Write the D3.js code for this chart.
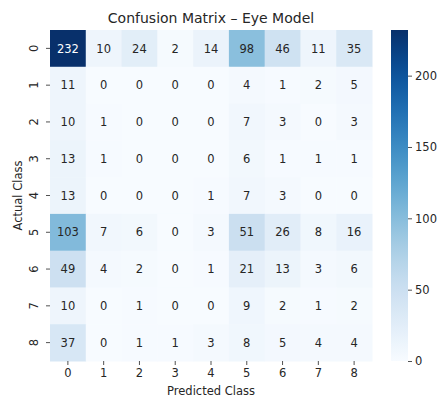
<!DOCTYPE html>
<html>
<head>
<meta charset="utf-8">
<script src="https://cdn.jsdelivr.net/npm/d3@7"></script>
<style>
  body { margin: 0; background: #fff; }
  text { font-family: "DejaVu Sans", sans-serif; fill: #262626; }
</style>
</head>
<body>
<div class="chart"></div>
<script>
var svgWidth = 439
var svgHeight = 400

// class labels and confusion counts (rows = actual, cols = predicted)
var actualClasses = ["0", "1", "2", "3", "4", "5", "6", "7", "8"];
var predictedClasses = ["0", "1", "2", "3", "4", "5", "6", "7", "8"];

var row0 = [232, 10, 24, 2, 14, 98, 46, 11, 35];
var row1 = [11, 0, 0, 0, 0, 4, 1, 2, 5];
var row2 = [10, 1, 0, 0, 0, 7, 3, 0, 3];
var row3 = [13, 1, 0, 0, 0, 6, 1, 1, 1];
var row4 = [13, 0, 0, 0, 1, 7, 3, 0, 0];
var row5 = [103, 7, 6, 0, 3, 51, 26, 8, 16];
var row6 = [49, 4, 2, 0, 1, 21, 13, 3, 6];
var row7 = [10, 0, 1, 0, 0, 9, 2, 1, 2];
var row8 = [37, 0, 1, 1, 3, 8, 5, 4, 4];

var colorbarTicks = [0, 50, 100, 150, 200];

var rows = [row0, row1, row2, row3, row4, row5, row6, row7, row8];

var cells = [];
rows.forEach(function(r, i) {
    r.forEach(function(v, j) {
        cells.push({actual: actualClasses[i], predicted: predictedClasses[j], value: v});
    });
});

var grid = {left: 50, top: 30, right: 372, bottom: 361};
var fontSize = "11.5px";

var svg = d3.select(".chart")
    .append("svg")
    .attr("width", svgWidth)
    .attr("height", svgHeight);

var maxVal = d3.max(cells, d => d.value);

var x = d3.scaleBand()
    .domain(predictedClasses)
    .range([grid.left, grid.right]);

var y = d3.scaleBand()
    .domain(actualClasses)
    .range([grid.top, grid.bottom]);

var color = d3.scaleSequential(d3.interpolateBlues)
    .domain([0, maxVal]);

svg.append("g")
    .selectAll("rect")
    .data(cells)
    .enter()
    .append("rect")
    .attr("x", d => x(d.predicted))
    .attr("y", d => y(d.actual))
    .attr("width", x.bandwidth() + 0.5)
    .attr("height", y.bandwidth() + 0.5)
    .attr("fill", d => color(d.value));

svg.append("g")
    .selectAll("text")
    .data(cells)
    .enter()
    .append("text")
    .attr("x", d => x(d.predicted) + x.bandwidth() / 2)
    .attr("y", d => y(d.actual) + y.bandwidth() / 2)
    .attr("dy", "0.36em")
    .attr("text-anchor", "middle")
    .style("font-size", fontSize)
    .style("fill", d => d.value > maxVal * 0.6 ? "#ffffff" : "#262626")
    .text(d => d.value);

// axes
var xAxis = svg.append("g")
    .attr("transform", `translate(0, ${grid.bottom})`)
    .call(d3.axisBottom(x).tickSize(4).tickPadding(4));

var yAxis = svg.append("g")
    .attr("transform", `translate(${grid.left}, 0)`)
    .call(d3.axisLeft(y).tickSize(4).tickPadding(4));

[xAxis, yAxis].forEach(function(a) {
    a.select(".domain").remove();
    a.selectAll("line").attr("stroke", "#262626").attr("stroke-width", 0.8);
    a.selectAll("text").style("font-size", fontSize).attr("font-family", null);
});

yAxis.selectAll(".tick text")
    .attr("x", null)
    .attr("text-anchor", "middle")
    .attr("transform", "translate(-16, 0) rotate(-90)")
    .attr("dy", "0.36em");

svg.append("text")
    .attr("x", (grid.left + grid.right) / 2)
    .attr("y", 23)
    .attr("text-anchor", "middle")
    .style("font-size", "14px")
    .text("Confusion Matrix \u2013 Eye Model");

svg.append("text")
    .attr("x", (grid.left + grid.right) / 2)
    .attr("y", 395)
    .attr("text-anchor", "middle")
    .style("font-size", fontSize)
    .text("Predicted Class");

svg.append("text")
    .attr("transform", `translate(22, ${(grid.top + grid.bottom) / 2}) rotate(-90)`)
    .attr("text-anchor", "middle")
    .style("font-size", fontSize)
    .text("Actual Class");

// colorbar
var cb = {x: 391, w: 17};
var cbScale = d3.scaleLinear()
    .domain([0, maxVal])
    .range([grid.bottom, grid.top]);

var defs = svg.append("defs");
var grad = defs.append("linearGradient")
    .attr("id", "cbgrad")
    .attr("x1", "0").attr("y1", "1")
    .attr("x2", "0").attr("y2", "0");
d3.range(0, 1.0001, 0.05).forEach(function(t) {
    grad.append("stop")
        .attr("offset", t)
        .attr("stop-color", color(t * maxVal));
});

svg.append("rect")
    .attr("x", cb.x)
    .attr("y", grid.top)
    .attr("width", cb.w)
    .attr("height", grid.bottom - grid.top)
    .attr("fill", "url(#cbgrad)");

var cbAxis = svg.append("g")
    .attr("transform", `translate(${cb.x + cb.w}, 0)`)
    .call(d3.axisRight(cbScale).tickValues(colorbarTicks).tickSize(4).tickPadding(3));
cbAxis.select(".domain").remove();
cbAxis.selectAll("line").attr("stroke", "#262626").attr("stroke-width", 0.8);
cbAxis.selectAll("text").style("font-size", fontSize).attr("font-family", null);
</script>
</body>
</html>
